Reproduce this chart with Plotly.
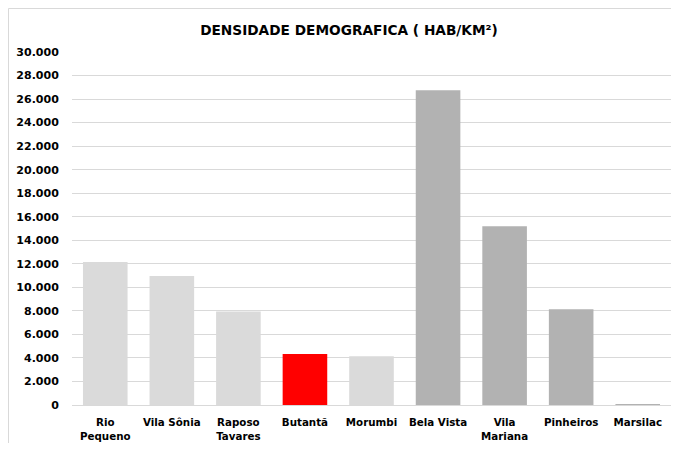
import plotly.graph_objects as go

categories = ["Rio Pequeno", "Vila Sônia", "Raposo Tavares", "Butantã", "Morumbi",
              "Bela Vista", "Vila Mariana", "Pinheiros", "Marsilac"]
tick_labels = ["Rio<br>Pequeno", "Vila Sônia", "Raposo<br>Tavares", "Butantã", "Morumbi",
               "Bela Vista", "Vila<br>Mariana", "Pinheiros", "Marsilac"]
densidade = [12150, 10960, 7950, 4340, 4150, 26740, 15190, 8140, 40]
y_ticks = list(range(0, 30001, 2000))
y_tick_labels = [f"{v:,}".replace(",", ".") for v in y_ticks]
title_text = "DENSIDADE DEMOGRAFICA ( HAB/KM²)"

LIGHT, RED, DARK = "#DADADA", "#FF0000", "#B2B2B2"
bar_colors = [LIGHT, LIGHT, LIGHT, RED, LIGHT, DARK, DARK, DARK, DARK]

FONT = "DejaVu Sans"

fig = go.Figure(go.Bar(
    x=categories, y=densidade, marker=dict(color=bar_colors, line=dict(width=0)),
))

# page has an 8px body margin; keep the figure inside the viewport (no scrollbars)
OFF = 8
W, H = 679 - 2 * OFF, 451 - 2 * OFF
L, R, T = 72 - OFF, 0, 52 - OFF
B = H - (405 - OFF)
pw, ph = W - L - R, H - T - B

def px_x(p):
    return (p - L) / pw

def px_y(p):
    return (H - B - p) / ph

border = dict(color="#D9D9D9", width=1)

fig.update_layout(
    template="none",
    width=W, height=H,
    margin=dict(l=L, r=R, t=T, b=B, autoexpand=False),
    paper_bgcolor="white", plot_bgcolor="white",
    bargap=0.33,
    showlegend=False,
    title=dict(text=title_text, x=(349 - OFF) / W, xanchor="center", y=1 - (30 - OFF) / H,
               yanchor="middle",
               font=dict(family=FONT, size=13.7, color="black", weight=700)),
    xaxis=dict(
        tickmode="array", tickvals=categories, ticktext=tick_labels,
        tickfont=dict(family=FONT, size=10.3, color="black", weight=700),
        ticks="outside", ticklen=8, tickcolor="rgba(0,0,0,0)",
        showline=True, linecolor="#D9D9D9", linewidth=1,
        showgrid=False, fixedrange=True, automargin=False,
    ),
    yaxis=dict(
        range=[0, 30000], tickmode="array", tickvals=y_ticks, ticktext=y_tick_labels,
        tickfont=dict(family=FONT, size=11, color="black", weight=700),
        showgrid=True, gridcolor="#D9D9D9", gridwidth=1,
        zeroline=True, zerolinecolor="#D9D9D9", zerolinewidth=1,
        ticks="outside", ticklen=10, tickcolor="rgba(0,0,0,0)",
        showline=False, fixedrange=True, automargin=False,
    ),
    shapes=[
        dict(type="line", xref="paper", yref="paper", x0=px_x(0.5), x1=px_x(W),
             y0=px_y(0.5), y1=px_y(0.5), line=border, layer="below"),
        dict(type="line", xref="paper", yref="paper", x0=px_x(0.5), x1=px_x(0.5),
             y0=px_y(0.5), y1=px_y(H), line=border, layer="below"),
    ],
)

fig.write_html("out.html", config={"displayModeBar": False})
